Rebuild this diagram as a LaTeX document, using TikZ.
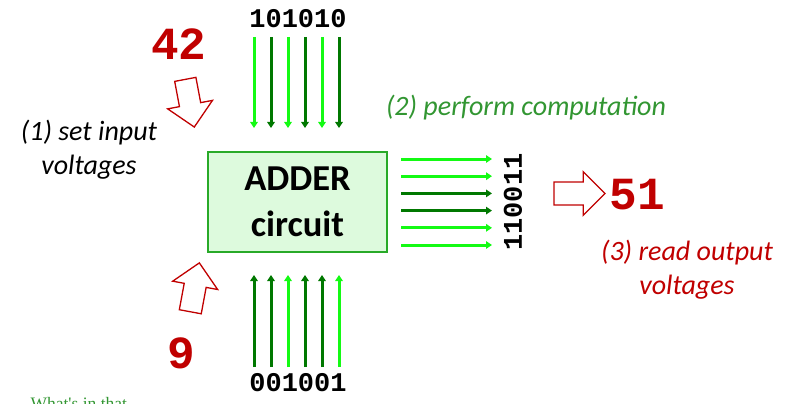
\documentclass[tikz,border=0pt]{standalone}
\usepackage{fontspec}
\setmainfont{Carlito}
\newfontfamily\bitfont{Liberation Mono}
\newfontfamily\notefont{Liberation Serif}
\usetikzlibrary{arrows.meta,shapes.arrows}
\definecolor{wire1}{RGB}{20,250,20}
\definecolor{wire0}{RGB}{0,120,0}
\definecolor{crimson}{RGB}{192,0,0}
\definecolor{leaf}{RGB}{50,150,50}
\definecolor{mint}{RGB}{221,250,221}
\definecolor{boxedge}{RGB}{40,170,40}
\tikzset{
  wire/.style={draw=#1,line width=3pt,-{Triangle[length=6pt,width=7.5pt]}},
  bits/.style={font=\bitfont\bfseries\fontsize{27}{27}\selectfont,inner sep=0pt},
  bignum/.style={font=\bitfont\bfseries\fontsize{46}{46}\selectfont,text=crimson,inner sep=0pt},
  hollow/.style={single arrow,draw=crimson,fill=white,line width=1.3pt,
    inner xsep=0pt,inner ysep=#1,minimum width=0pt},
  caption/.style={font=\itshape\fontsize{28}{34}\selectfont,align=center},
}
\begin{document}
\begin{tikzpicture}[x=1pt,y=-1pt]
  \useasboundingbox (0,0) rectangle (788,404);
  \node[draw=boxedge,fill=mint,line width=1.2pt,minimum width=179pt,minimum height=100pt,
    inner sep=0pt,font=\bfseries\fontsize{36.5}{33}\selectfont,align=center] (adder) at (297.5,202) {ADDER\\[13pt]circuit};
  % input and output wires
  \foreach \b [count=\i from 0] in {1,0,1,0,1,0} {
    \coordinate (ta\i) at (254+17*\i,37);
    \coordinate (tb\i) at (254+17*\i,128);
    \draw[wire=wire\b] (ta\i) -- (tb\i);
  }
  \foreach \b [count=\i from 0] in {0,0,1,0,0,1} {
    \coordinate (ba\i) at (254+17*\i,367);
    \coordinate (bb\i) at (254+17*\i,275);
    \draw[wire=wire\b] (ba\i) -- (bb\i);
  }
  \foreach \b [count=\i from 0] in {1,1,0,0,1,1} {
    \coordinate (ra\i) at (401,159+17.2*\i);
    \coordinate (rb\i) at (492,159+17.2*\i);
    \draw[wire=wire\b] (ra\i) -- (rb\i);
  }
  \node[bits] (inA) at (298,19) {101010};
  \node[bits] (inB) at (298,383) {001001};
  \node[bits,rotate=90] (out) at (513,202) {110011};
  \node[bignum] (numA) at (179,44) {42};
  \node[bignum] (numB) at (181,353) {9};
  \node[bignum] (sum) at (637,195) {51};
  \node[hollow=10.15pt,single arrow head extend=12pt,minimum height=48.5pt,rotate=-79.3] (stepA) at (188.8,97.9) {};
  \node[hollow=10.5pt,single arrow head extend=11.7pt,minimum height=49.7pt,rotate=79.5] (stepB) at (193.8,292.8) {};
  \node[hollow=10.8pt,single arrow head extend=10.4pt,minimum height=51pt] (stepC) at (573.8,193.5) {};
  \node[caption] (set) at (89,150) {(1) set input\\voltages};
  \node[caption,text=leaf] (comp) at (526,108) {(2) perform computation};
  \node[caption,text=crimson] (read) at (687,270) {(3) read output\\voltages};
  \node[font=\notefont\fontsize{17.5}{17.5}\selectfont,text=leaf,anchor=base west] (note) at (27,409.5) {What's in that};
\end{tikzpicture}
\end{document}
